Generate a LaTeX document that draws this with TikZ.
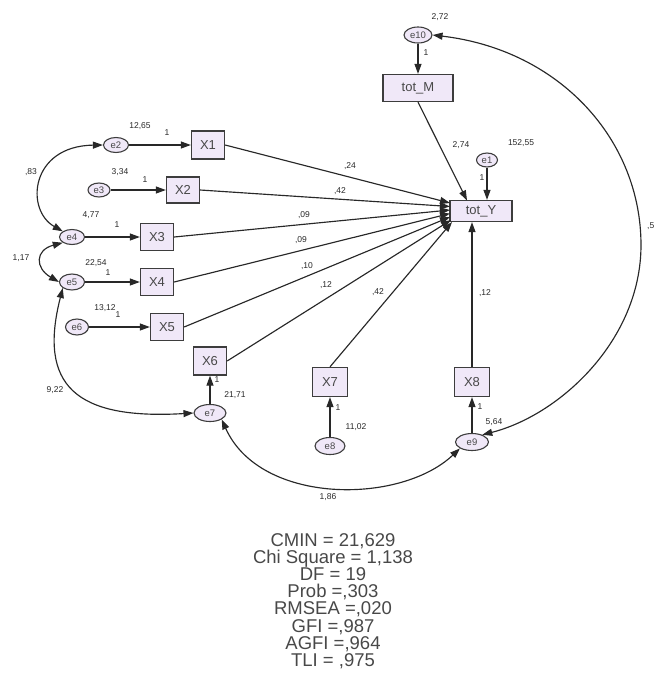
\documentclass[tikz,border=0pt]{standalone}
\usepackage{fontspec}
\setmainfont{Liberation Sans}
\usetikzlibrary{shapes.geometric,arrows.meta}
\definecolor{lav}{RGB}{240,232,248}
\definecolor{ink}{RGB}{40,40,40}
\begin{document}
\begin{tikzpicture}[x=1pt,y=-1pt,
 obs/.style={draw=ink!90, line width=1.3pt, fill=lav, inner sep=0pt, font=\fontsize{13}{13}\selectfont, text=ink!85},
 err/.style={ellipse, draw=ink!90, line width=1.1pt, fill=lav, inner sep=0pt, font=\fontsize{9.5}{10}\selectfont, text=ink!85},
 lab/.style={font=\fontsize{8.5}{9}\selectfont, text=ink, inner sep=0pt},
 reg/.style={draw=ink, line width=1.15pt, -{Triangle[length=10pt,width=7pt]}},
 cov/.style={draw=ink, line width=1.15pt, {Triangle[length=10pt,width=7pt]}-{Triangle[length=10pt,width=7pt]}},
 fitx/.style={font=\fontsize{18.5}{17.2}\selectfont, text=ink!85, inner sep=0pt, align=center}
]
\useasboundingbox (0,0) rectangle (656,673);

% observed variables
\node[obs, minimum width=70pt, minimum height=27pt] (totM) at (418,88) {tot\_M};
\node[obs, minimum width=62pt, minimum height=21pt] (totY) at (481,211) {tot\_Y};
\node[obs, minimum width=33pt, minimum height=28pt] (X1) at (208,145) {X1};
\node[obs, minimum width=33pt, minimum height=26pt] (X2) at (183,190) {X2};
\node[obs, minimum width=33pt, minimum height=27pt] (X3) at (157,237) {X3};
\node[obs, minimum width=33pt, minimum height=27pt] (X4) at (157,282) {X4};
\node[obs, minimum width=33pt, minimum height=27pt] (X5) at (167,327) {X5};
\node[obs, minimum width=33pt, minimum height=28pt] (X6) at (210,361) {X6};
\node[obs, minimum width=35pt, minimum height=29pt] (X7) at (330,382) {X7};
\node[obs, minimum width=35pt, minimum height=29pt] (X8) at (472,382) {X8};

% error terms
\node[err, minimum width=28pt, minimum height=16pt] (e10) at (418,35) {e10};
\node[err, minimum width=21pt, minimum height=14pt] (e1) at (487,160) {e1};
\node[err, minimum width=25pt, minimum height=15pt] (e2) at (116,145) {e2};
\node[err, minimum width=22pt, minimum height=14pt] (e3) at (99,190) {e3};
\node[err, minimum width=25pt, minimum height=15pt] (e4) at (72,237) {e4};
\node[err, minimum width=25pt, minimum height=16pt] (e5) at (72,282) {e5};
\node[err, minimum width=23pt, minimum height=16pt] (e6) at (77,327) {e6};
\node[err, minimum width=32pt, minimum height=17pt] (e7) at (210,413) {e7};
\node[err, minimum width=30pt, minimum height=17pt] (e8) at (330,446) {e8};
\node[err, minimum width=33pt, minimum height=17pt] (e9) at (472,442) {e9};

% arrow end points on tot_Y
\coordinate (t1) at (450,203);
\coordinate (t2) at (450,206.5);
\coordinate (t3) at (450,210);
\coordinate (t4) at (450,213.5);
\coordinate (t5) at (450,217);
\coordinate (t6) at (451,220);
\coordinate (t7) at (452,222);
\coordinate (tm) at (467,200.5);

% regressions
\draw[reg] (X1.east) -- (t1);
\draw[reg] (X2.east) -- (t2);
\draw[reg] (X3.east) -- (t3);
\draw[reg] (X4.east) -- (t4);
\draw[reg] (X5.east) -- (t5);
\draw[reg] (X6.east) -- (t6);
\draw[reg] (X7.north) -- (t7);
\draw[reg] (X8.north) -- (X8.north |- totY.south);
\draw[reg] (totM.south) -- (tm);
\draw[reg] (e1.south) -- (e1.south |- totY.north);
\draw[reg] (e10.south) -- (totM.north);
\draw[reg] (e2) -- (X1);
\draw[reg] (e3) -- (X2);
\draw[reg] (e4) -- (X3);
\draw[reg] (e5) -- (X4);
\draw[reg] (e6) -- (X5);
\draw[reg] (e7) -- (X6);
\draw[reg] (e8) -- (X7);
\draw[reg] (e9) -- (X8);

% covariances
\draw[cov] (e2.west) .. controls (30,146) and (25,210) .. (e4.north west);
\draw[cov] (e4.south west) .. controls (35,250) and (35,268) .. (e5.west);
\draw[cov] (e5.south west) .. controls (38,385) and (75,420) .. (e7.west);
\draw[cov] (e7.south east) .. controls (260,505) and (400,505) .. (e9.south west);
\draw[cov] (e10.east) .. controls (560,50) and (641,140) .. (641,245)
   .. controls (641,340) and (560,415) .. (e9.35);

% labels
\node[lab] (le10) at (440,17) {2,72};
\node[lab] (le10b) at (426,53) {1};
\node[lab] (le1) at (521,143) {152,55};
\node[lab] (le1b) at (482,178) {1};
\node[lab] (lm) at (461,145) {2,74};
\node[lab] (le2) at (140,126) {12,65};
\node[lab] (le2b) at (167,133) {1};
\node[lab] (le3) at (120,172) {3,34};
\node[lab] (le3b) at (145,180) {1};
\node[lab] (le4) at (91,215) {4,77};
\node[lab] (le4b) at (117,225) {1};
\node[lab] (le5) at (96,263) {22,54};
\node[lab] (le5b) at (108,273) {1};
\node[lab] (le6) at (105,308) {13,12};
\node[lab] (le6b) at (118,315) {1};
\node[lab] (le7) at (235,395) {21,71};
\node[lab] (le7b) at (217,380) {1};
\node[lab] (le8) at (356,427) {11,02};
\node[lab] (le8b) at (338,408) {1};
\node[lab] (le9) at (494,422) {5,64};
\node[lab] (le9b) at (480,407) {1};
\node[lab] (c24) at (31,172) {,83};
\node[lab] (c45) at (21,258) {1,17};
\node[lab] (c57) at (55,390) {9,22};
\node[lab] (c79) at (328,497) {1,86};
\node[lab, anchor=west] (c19) at (647,226) {,5};
\node[lab] (r1) at (350,166) {,24};
\node[lab] (r2) at (340,191) {,42};
\node[lab] (r3) at (304,215) {,09};
\node[lab] (r4) at (301,240) {,09};
\node[lab] (r5) at (307,266) {,10};
\node[lab] (r6) at (326,285) {,12};
\node[lab] (r7) at (378,292) {,42};
\node[lab] (r8) at (485,293) {,12};

% fit indices
\node[fitx] (fit) at (333,601) {CMIN = 21,629\\Chi Square = 1,138\\DF = 19\\Prob =,303\\RMSEA =,020\\GFI =,987\\AGFI =,964\\TLI = ,975};
\end{tikzpicture}
\end{document}
